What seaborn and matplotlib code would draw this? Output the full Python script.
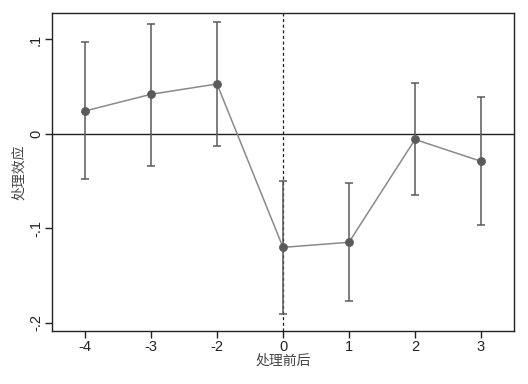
import matplotlib
matplotlib.use("Agg")
import matplotlib.pyplot as plt
import seaborn as sns
import numpy as np
import pandas as pd

periods = ["-4", "-3", "-2", "0", "1", "2", "3"]
coef = [0.0243, 0.042, 0.0529, -0.120, -0.1146, -0.0058, -0.0289]
ci_low = [-0.048, -0.0339, -0.0127, -0.1905, -0.177, -0.0646, -0.0966]
ci_high = [0.097, 0.1167, 0.119, -0.050, -0.0522, 0.0536, 0.0388]
yticks = [0.1, 0, -0.1, -0.2]
ytick_labels = [".1", "0", "-.1", "-.2"]

sns.set_theme(style="white")
plt.rcParams['font.family'] = ['Liberation Sans', 'Noto Sans CJK SC', 'DejaVu Sans']

df = pd.DataFrame({"pos": np.arange(len(periods)), "period": periods,
                   "coef": coef, "lo": ci_low, "hi": ci_high})

fig = plt.figure(figsize=(5.28, 3.84), dpi=100)
ax = fig.add_axes([52/528, 53/384, 462/528, 318/384])

ax.axhline(0, color="#222222", lw=1.0, zorder=1)
ax.axvline(3, color="#222222", lw=0.9, ls=(0, (2.5, 2)), zorder=1)

ax.errorbar(df["pos"], df["coef"],
            yerr=[df["coef"] - df["lo"], df["hi"] - df["coef"]],
            fmt="none", ecolor="#5a5a5a", elinewidth=1.1, capsize=3, capthick=1.1, zorder=2)
sns.lineplot(data=df, x="pos", y="coef", ax=ax, color="#8a8a8a", lw=1.1, zorder=3)
sns.scatterplot(data=df, x="pos", y="coef", ax=ax, color="#5a5a5a", s=34,
                edgecolor="#5a5a5a", zorder=4)

ax.set_xlim(-0.5, 6.5)
ax.set_ylim(-0.2085, 0.128)
ax.set_xticks(df["pos"])
ax.set_xticklabels(periods, fontsize=10.5)
ax.set_yticks(yticks)
ax.set_yticklabels(ytick_labels, fontsize=10.5, rotation=90, va="center")
ax.tick_params(axis="both", which="both", direction="out", length=5, width=1,
               color="#222222", labelcolor="#222222", bottom=True, left=True, pad=1.5)
ax.set_xlabel("处理前后", fontsize=10, color="#444444", family=['Noto Sans CJK SC', 'DejaVu Sans'], labelpad=0)
ax.set_ylabel("处理效应", fontsize=10, color="#444444", family=['Noto Sans CJK SC', 'DejaVu Sans'], labelpad=2)
for s in ax.spines.values():
    s.set_color("#222222")
    s.set_linewidth(1.0)

fig.savefig("out.png", dpi=100)
